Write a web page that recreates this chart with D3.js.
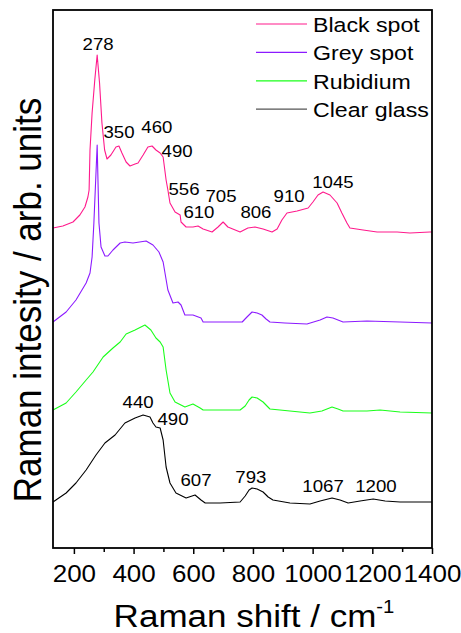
<!DOCTYPE html>
<html>
<head>
<meta charset="utf-8">
<script src="https://cdn.jsdelivr.net/npm/d3@7"></script>
<style>
  body { margin: 0; background: #fff; }
  text { font-family: "Liberation Sans", Arial, sans-serif; fill: #000; }
</style>
</head>
<body>
<div id="chart"></div>
<script>
// spectra: [Raman shift cm-1, intensity (arb., stacked)]
const blackSpot = [[130,320],[163,322],[197,326],[220,333],[237,341],[247,351],[251,358],[254,398],[261,435],
  [270,468],[278,493],[286,465],[294,425],[303,398],[311,389],[324,393],[341,401],[351,402],[361,395],[375,386],
  [388,382],[405,384],[415,385],[432,393],[448,401],[462,402],[475,398],[489,395],[499,391],[509,368],[515,358],
  [522,345],[539,336],[556,333],[559,326],[576,321],[599,321],[616,322],[633,319],[663,316],[683,321],[700,326],
  [716,321],[757,316],[783,320],[807,321],[834,319],[864,316],[881,319],[897,328],[914,335],[948,337],[985,340],
  [1001,346],[1018,353],[1035,356],[1058,353],[1082,345],[1098,335],[1115,325],[1125,320],[1169,318],[1216,316],
  [1283,316],[1326,315],[1393,316],[1400,316]];
const greySpot = [[130,226],[174,236],[207,248],[241,265],[254,275],[261,291],[267,325],[278,403],[284,325],
  [291,301],[304,292],[314,292],[331,298],[355,305],[371,306],[398,305],[442,307],[465,303],[485,296],[499,286],
  [515,258],[532,245],[549,246],[559,243],[572,233],[599,233],[626,230],[633,226],[673,226],[733,226],[764,226],
  [780,231],[797,236],[814,235],[830,233],[844,229],[857,226],[907,225],[981,224],[1025,228],[1048,231],[1068,230],
  [1102,226],[1182,227],[1293,226],[1400,225]];
const rubidium = [[130,138],[174,145],[207,156],[241,168],[264,176],[298,191],[331,200],[355,206],[375,214],
  [405,218],[438,223],[458,218],[475,210],[489,206],[499,201],[509,178],[522,155],[539,146],[572,141],[599,144],
  [623,140],[633,138],[690,138],[757,138],[774,142],[787,148],[797,151],[814,150],[834,146],[847,142],[857,139],
  [924,137],[991,135],[1031,137],[1065,141],[1085,139],[1102,137],[1182,137],[1226,138],[1293,136],[1400,135]];
const clearGlass = [[130,46],[174,55],[207,65],[241,78],[274,93],[304,105],[338,113],[371,125],[405,130],
  [432,133],[455,131],[465,125],[475,121],[489,120],[499,108],[509,81],[522,65],[542,55],[576,50],[606,53],
  [626,48],[640,45],[690,45],[757,46],[774,52],[787,58],[797,60],[814,59],[834,56],[851,51],[867,48],[924,45],
  [991,44],[1025,47],[1065,50],[1092,48],[1119,45],[1159,47],[1203,49],[1243,47],[1293,46],[1400,46]];

const seriesNames = ["Black spot", "Grey spot", "Rubidium", "Clear glass"];
const seriesData = [blackSpot, greySpot, rubidium, clearGlass];
const seriesColors = ["#ff1a8c", "#8c1aff", "#1aff1a", "#000000"];

// peak labels [text, shift, intensity]
const peakLabels = [["278",281,498],["350",351,410],["460",478,415],["490",546,391],["556",569,353],
  ["705",693,346],["610",619,330],["806",810,330],["910",921,346],["1045",1068,360],
  ["440",415,140],["490",532,123],["607",609,62],["793",793,65],["1067",1035,56],["1200",1212,56]];

const xTicks = [200, 400, 600, 800, 1000, 1200, 1400];
const xMinor = [300, 500, 700, 900, 1100, 1300];

const W = 461, H = 633;
const L = 53, R = 432, T = 10, B = 548;
const SX = 1.13; // picture is stretched horizontally

const svg = d3.select("#chart").append("svg").attr("width", W).attr("height", H);

const x = d3.scaleLinear().domain([130, 1400]).range([L, R]);
const y = d3.scaleLinear().domain([0, 538]).range([B, T]);

const line = d3.line().x(d => x(d[0])).y(d => y(d[1]));

svg.append("g").selectAll("path")
  .data(seriesData)
  .join("path")
    .attr("d", line)
    .attr("fill", "none")
    .attr("stroke", (d, i) => seriesColors[i])
    .attr("stroke-width", 1.1)
    .attr("stroke-linejoin", "round");

// frame
svg.append("rect")
  .attr("x", L).attr("y", T).attr("width", R - L).attr("height", B - T)
  .attr("fill", "none").attr("stroke", "#000").attr("stroke-width", 1.8);

// axes
svg.append("g")
  .attr("transform", `translate(0,${B})`)
  .call(d3.axisBottom(x).tickValues(xMinor).tickSize(4).tickSizeOuter(0).tickFormat(""))
  .call(g => g.select(".domain").remove())
  .call(g => g.selectAll("line").attr("stroke-width", 1.5));

const xAxis = svg.append("g")
  .attr("transform", `translate(0,${B})`)
  .call(d3.axisBottom(x).tickValues(xTicks).tickSize(6).tickSizeOuter(0).tickPadding(0).tickFormat(d3.format("d")));
xAxis.select(".domain").remove();
xAxis.selectAll("line").attr("stroke-width", 1.5);
xAxis.selectAll("text")
  .attr("y", 0).attr("dy", 0)
  .attr("transform", `translate(0,34) scale(${SX},1)`)
  .style("font-size", "23px")
  .style("font-family", "'Liberation Sans', Arial, sans-serif")
  .attr("fill", "#000");

function label(g, px, py, txt, size, anchor) {
  return g.append("text")
    .attr("transform", `translate(${px},${py}) scale(${SX},1)`)
    .attr("text-anchor", anchor || "middle")
    .style("font-size", size + "px")
    .text(txt);
}

// peak labels
const lg = svg.append("g");
peakLabels.forEach(p => label(lg, x(p[1]), y(p[2]), p[0], 16.5));

// axis titles
const xt = label(svg, 254, 627, "", 31);
xt.append("tspan").text("Raman shift / cm");
xt.append("tspan").attr("dy", -14).style("font-size", "18px").text("-1");

svg.append("text")
  .attr("transform", `translate(41,300) scale(${SX},1) rotate(-90)`)
  .attr("text-anchor", "middle")
  .style("font-size", "35px")
  .text("Raman intesity / arb. units");

// legend
const leg = svg.append("g").selectAll("g")
  .data(seriesNames)
  .join("g")
    .attr("transform", (d, i) => `translate(256,${24 + i * 28.4})`);
leg.append("line")
  .attr("x1", 0).attr("x2", 51)
  .attr("stroke", (d, i) => seriesColors[i] === "#000000" ? "#555" : seriesColors[i])
  .attr("stroke-width", 1.2);
leg.each(function(d) { label(d3.select(this), 57, 8, d, 20.5, "start"); });
</script>
</body>
</html>
